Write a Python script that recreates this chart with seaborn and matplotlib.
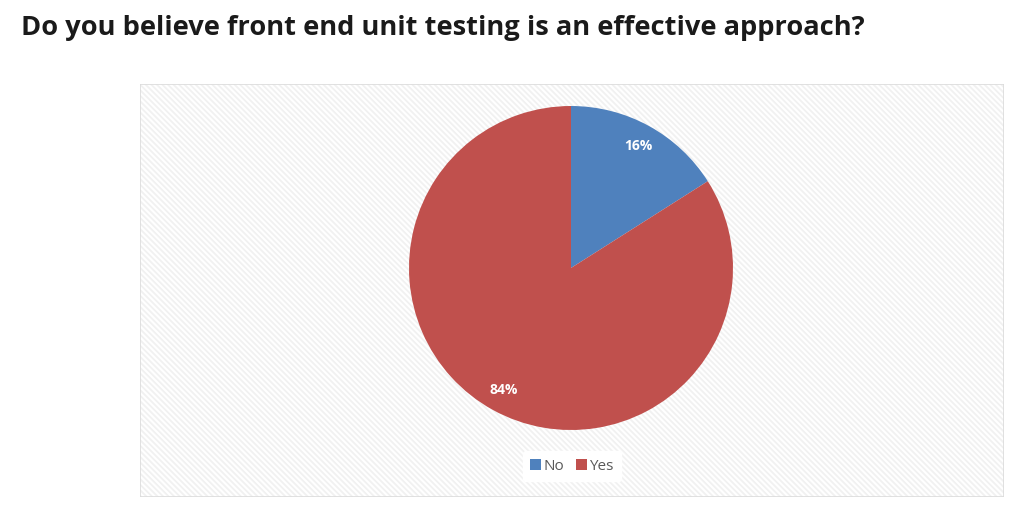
import numpy as np
import seaborn as sns
import matplotlib.pyplot as plt
from matplotlib.patches import Rectangle, Patch

answers = ["No", "Yes"]
shares = [16, 84]
colors = ["#4F81BD", "#C0504D"]
title = "Do you believe front end unit testing is an effective approach?"

sns.set_theme(style="white")
plt.rcParams['font.family'] = ['Open Sans', 'DejaVu Sans']

W, H = 1026, 516
fig = plt.figure(figsize=(W / 100, H / 100), dpi=100)
fig.patch.set_facecolor("white")

fig.text(21 / W, 1 - 28 / H, title, fontsize=19.6, fontweight="bold",
         color="#1a1a1a", va="center", ha="left")

# chart area with hatched background (hatch takes the edge colour)
ax_bg = fig.add_axes([140 / W, 1 - 497 / H, 864 / W, 413 / H])
ax_bg.set_xlim(0, 1)
ax_bg.set_ylim(0, 1)
ax_bg.axis("off")
plt.rcParams['hatch.linewidth'] = 1.3
ax_bg.add_patch(Rectangle((0, 0), 1, 1, facecolor="white", edgecolor="#f1f1f1",
                          hatch="\\\\\\\\\\\\", linewidth=0))
ax_bg.add_patch(Rectangle((0, 0), 1, 1, facecolor="none", edgecolor="#dcdcdc",
                          linewidth=1.2))

# pie
cx, cy, r = 571, 268, 162
ax = fig.add_axes([(cx - r) / W, 1 - (cy + r) / H, 2 * r / W, 2 * r / H])
wedges, texts, autotexts = ax.pie(
    shares, colors=colors, startangle=90, counterclock=False,
    autopct="%d%%", pctdistance=0.86, radius=1,
    wedgeprops=dict(linewidth=0),
    textprops=dict(color="white", fontsize=10, fontweight="bold"))
ax.set_xlim(-1, 1)
ax.set_ylim(-1, 1)
ax.set_aspect("equal")

handles = [Patch(facecolor=c, edgecolor="none") for c in colors]
leg = fig.legend(handles, answers, loc="center", bbox_to_anchor=(572 / W, 1 - 466 / H),
                 ncol=2, frameon=True, fontsize=11, handlelength=0.7, handleheight=0.7,
                 handletextpad=0.15, columnspacing=0.8, borderpad=0.5)
leg.get_frame().set_facecolor("white")
leg.get_frame().set_edgecolor("white")
leg.get_frame().set_alpha(1)
for t in leg.get_texts():
    t.set_color("#595959")

fig.savefig("out.png", dpi=100, facecolor="white")
